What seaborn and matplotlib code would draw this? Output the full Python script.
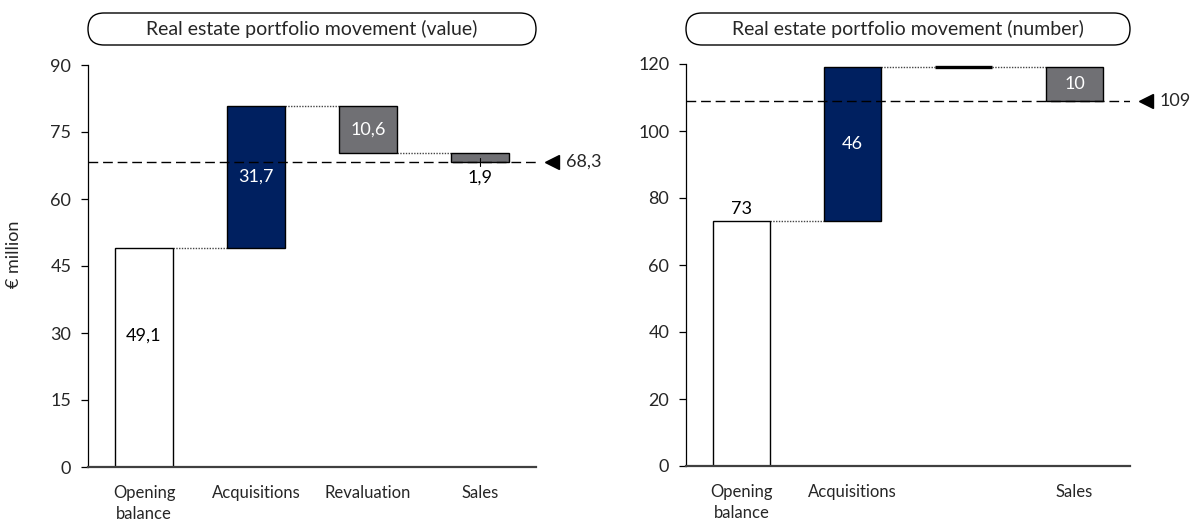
import numpy as np
import pandas as pd
import matplotlib
matplotlib.use("Agg")
import matplotlib.pyplot as plt
import seaborn as sns
from matplotlib.patches import FancyBboxPatch
from matplotlib.transforms import IdentityTransform

# ---------------------------------------------------------------- data
steps = ["Opening balance", "Acquisitions", "Revaluation", "Sales"]

value_title = "Real estate portfolio movement (value)"
value_ticklabels = ["Opening\nbalance", "Acquisitions", "Revaluation", "Sales"]
value_opening = 49.1
value_changes = [31.7, -10.6, -1.9]
value_yticks = [0, 15, 30, 45, 60, 75, 90]

number_title = "Real estate portfolio movement (number)"
number_ticklabels = ["Opening\nbalance", "Acquisitions", "", "Sales"]
number_opening = 73
number_changes = [46, 0, -10]
number_yticks = [0, 20, 40, 60, 80, 100, 120]

# ---------------------------------------------------------------- style
NAVY = "#002060"
GREY = "#707074"
FONT = ["Lato", "DejaVu Sans"]
FS = 12

sns.set_style("white")
plt.rcParams["font.family"] = FONT
plt.rcParams["font.size"] = FS

W, H = 1198, 524
fig = plt.figure(figsize=(W / 100, H / 100), dpi=100)
ax1 = fig.add_axes([88 / W, 1 - 467 / H, (536 - 88) / W, (467 - 65) / H])
ax2 = fig.add_axes([686 / W, 1 - 466 / H, (1130 - 686) / W, (466 - 64) / H])


def fmt(v, decimals):
    return f"{abs(v):.{decimals}f}".replace(".", ",")


def waterfall(ax, opening, changes, ticklabels, yticks, decimals,
              colors, label_modes):
    heights = [opening] + list(changes)
    levels = opening + np.concatenate([[0], np.cumsum(changes)])
    bottoms = np.concatenate([[0], levels[:-1]])
    df = pd.DataFrame({"step": steps, "height": heights})
    width = 0.51

    sns.barplot(data=df, x="step", y="height", order=steps, bottom=bottoms,
                width=width, errorbar=None, color=GREY, edgecolor="black",
                linewidth=1.0, ax=ax, zorder=2)
    for patch, c, h in zip(ax.patches, colors, heights):
        patch.set_facecolor(c)
        if h == 0:
            patch.set_linewidth(2.4)

    # dotted connectors between consecutive bars
    for i in range(len(steps) - 1):
        ax.plot([i + width / 2, i + 1 - width / 2], [levels[i], levels[i]],
                ls=(0, (1.0, 1.0)), lw=1.0, color="#444444", zorder=1)

    # value labels
    lfs = FS + 1
    for i, (h, b, mode) in enumerate(zip(heights, bottoms, label_modes)):
        txt = fmt(h, decimals)
        top, low = max(b, b + h), min(b, b + h)
        if mode == "inside":
            ax.text(i, (top + low) / 2, txt, ha="center", va="center",
                    color="white", fontsize=lfs, zorder=4)
        elif mode == "inside_dark":
            ax.text(i, low + 0.6 * (top - low), txt, ha="center", va="center",
                    color="black", fontsize=lfs, zorder=4)
        elif mode == "above":
            ax.text(i, top + 0.012 * yticks[-1], txt, ha="center", va="bottom",
                    color="black", fontsize=lfs, zorder=4)
        elif mode == "below":
            span = yticks[-1]
            ax.plot([i, i], [(top + low) / 2, low - 0.01 * span],
                    color="black", lw=0.8, zorder=4)
            ax.text(i, low - 0.018 * span, txt, ha="center", va="top",
                    color="black", fontsize=lfs, zorder=4)

    # closing level: dashed guide, pointer and value
    closing = levels[-1]
    ax.plot([-0.5, len(steps) - 0.5], [closing, closing], color="black",
            lw=1.0, ls=(0, (7, 3.5)), zorder=3)
    ax.plot(3.64, closing, marker="<", ms=10, color="black", clip_on=False)
    ax.text(3.77, closing, fmt(closing, decimals), ha="left", va="center",
            fontsize=lfs, clip_on=False)

    ax.set_xlim(-0.5, len(steps) - 0.5)
    ax.set_ylim(yticks[0], yticks[-1])
    ax.set_yticks(yticks)
    ax.set_xticks(range(len(steps)))
    ax.set_xticklabels(ticklabels, linespacing=1.4)
    ax.set_xlabel("")
    ax.set_ylabel("")
    for s in ("top", "right"):
        ax.spines[s].set_visible(False)
    ax.spines["left"].set_color("black")
    ax.spines["left"].set_linewidth(0.9)
    ax.spines["bottom"].set_color("#404040")
    ax.spines["bottom"].set_linewidth(1.6)
    ax.tick_params(axis="y", direction="out", length=5, width=0.9,
                   color="black", pad=7, labelsize=FS + 1, left=True)
    ax.tick_params(axis="x", length=0, pad=13, labelsize=FS)


waterfall(ax1, value_opening, value_changes, value_ticklabels, value_yticks, 1,
          ["white", NAVY, GREY, GREY],
          ["inside_dark", "inside", "inside", "below"])
waterfall(ax2, number_opening, number_changes, number_ticklabels, number_yticks, 0,
          ["white", NAVY, GREY, GREY],
          ["above", "inside", None, "inside"])

ax1.set_ylabel("€ million", fontsize=FS + 1)
ax1.yaxis.set_label_coords((22 - 88) / 448, 0.53)

# rounded title boxes above each panel
for ax, title in ((ax1, value_title), (ax2, number_title)):
    pos = ax.get_position()
    x0, x1 = pos.x0 * W, pos.x1 * W
    y0, hgt = H - 45, 32
    box = FancyBboxPatch((x0, y0), x1 - x0, hgt,
                         boxstyle="round,pad=0,rounding_size=16",
                         transform=IdentityTransform(), fill=False,
                         lw=1.0, ec="black")
    fig.add_artist(box)
    fig.text((x0 + x1) / 2 / W, (y0 + hgt / 2) / H, title,
             ha="center", va="center", fontsize=14)

fig.savefig("out.png", dpi=100)
